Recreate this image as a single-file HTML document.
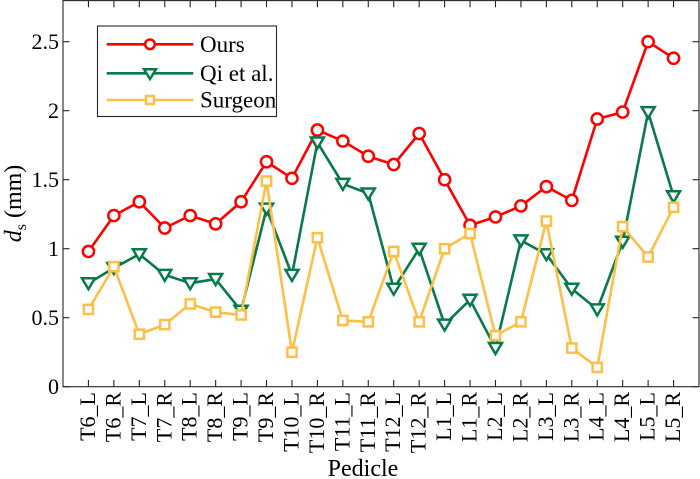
<!DOCTYPE html>
<html>
<head>
<meta charset="utf-8">
<style>
html,body{margin:0;padding:0;background:#fff;}
svg{display:block;}
text{font-family:"Liberation Serif","Times New Roman",serif;fill:#000;}
</style>
</head>
<body>
<svg width="700" height="479" viewBox="0 0 700 479" xmlns="http://www.w3.org/2000/svg">
<defs>
  <marker id="mc" viewBox="-10 -10 20 20" markerWidth="20" markerHeight="20" refX="0" refY="0" markerUnits="userSpaceOnUse" overflow="visible">
    <circle cx="0" cy="0" r="5.6" fill="#fff" stroke="#ff0000" stroke-width="2.5"/>
  </marker>
  <marker id="mt" viewBox="-10 -10 20 20" markerWidth="20" markerHeight="20" refX="0" refY="0" markerUnits="userSpaceOnUse" overflow="visible">
    <polygon points="-6.5,-5 6.5,-5 0,6" fill="#fff" stroke="#077a4a" stroke-width="2.5"/>
  </marker>
  <marker id="ms" viewBox="-10 -10 20 20" markerWidth="20" markerHeight="20" refX="0" refY="0" markerUnits="userSpaceOnUse" overflow="visible">
    <rect x="-4.6" y="-4.6" width="9.2" height="9.2" fill="#fff" stroke="#ffbf47" stroke-width="2.5"/>
  </marker>
</defs>

<rect x="0" y="0" width="700" height="479" fill="#fff"/>

<!-- series -->
<polyline fill="none" stroke="#ff0000" stroke-width="2.6" stroke-linejoin="round"
 marker-start="url(#mc)" marker-mid="url(#mc)" marker-end="url(#mc)"
 points="88.44,251.46 113.88,215.58 139.32,201.78 164.76,228 190.2,215.58 215.64,223.86 241.08,201.78 266.52,161.76 291.96,178.32 317.4,130.02 342.84,141.06 368.28,156.24 393.72,164.52 419.16,133.5 444.6,179.7 470.04,225.24 495.48,216.96 520.92,205.92 546.36,186.6 571.8,200.4 597.24,118.98 622.68,112.08 648.12,41.7 673.56,58.26"/>

<polyline fill="none" stroke="#077a4a" stroke-width="2.6" stroke-linejoin="round"
 marker-start="url(#mt)" marker-mid="url(#mt)" marker-end="url(#mt)"
 points="88.44,283.2 113.88,268.02 139.32,254.22 164.76,274.92 190.2,283.2 215.64,279.06 241.08,310.8 266.52,208.68 291.96,274.92 317.4,142.44 342.84,183.84 368.28,193.5 393.72,288.72 419.16,248.7 444.6,324.6 470.04,299.76 495.48,348.06 520.92,240.42 546.36,254.22 571.8,288.72 597.24,309.42 622.68,241.8 648.12,112.08 673.56,196.26"/>

<polyline fill="none" stroke="#ffbf47" stroke-width="2.6" stroke-linejoin="round"
 marker-start="url(#ms)" marker-mid="url(#ms)" marker-end="url(#ms)"
 points="88.44,309.42 113.88,266.64 139.32,334.26 164.76,324.6 190.2,303.9 215.64,312.18 241.08,314.94 266.52,181.08 291.96,352.2 317.4,237.66 342.84,320.46 368.28,321.84 393.72,251.46 419.16,321.84 444.6,248.7 470.04,233.52 495.48,335.64 520.92,321.84 546.36,221.1 571.8,348.06 597.24,367.38 622.68,226.62 648.12,256.98 673.56,207.3"/>

<!-- axes box -->
<rect x="63" y="0.6" width="636" height="386.1" fill="none" stroke="#262626" stroke-width="1.1"/>

<!-- y ticks -->
<g stroke="#262626" stroke-width="1.1">
  <line x1="63" y1="386.7" x2="69.5" y2="386.7"/><line x1="699" y1="386.7" x2="692.5" y2="386.7"/>
  <line x1="63" y1="317.7" x2="69.5" y2="317.7"/><line x1="699" y1="317.7" x2="692.5" y2="317.7"/>
  <line x1="63" y1="248.7" x2="69.5" y2="248.7"/><line x1="699" y1="248.7" x2="692.5" y2="248.7"/>
  <line x1="63" y1="179.7" x2="69.5" y2="179.7"/><line x1="699" y1="179.7" x2="692.5" y2="179.7"/>
  <line x1="63" y1="110.7" x2="69.5" y2="110.7"/><line x1="699" y1="110.7" x2="692.5" y2="110.7"/>
  <line x1="63" y1="41.7" x2="69.5" y2="41.7"/><line x1="699" y1="41.7" x2="692.5" y2="41.7"/>
</g>

<!-- x ticks -->
<g stroke="#262626" stroke-width="1.1">
  <line x1="88.44" y1="386.7" x2="88.44" y2="380"/><line x1="88.44" y1="0.6" x2="88.44" y2="7.3"/>
  <line x1="113.88" y1="386.7" x2="113.88" y2="380"/><line x1="113.88" y1="0.6" x2="113.88" y2="7.3"/>
  <line x1="139.32" y1="386.7" x2="139.32" y2="380"/><line x1="139.32" y1="0.6" x2="139.32" y2="7.3"/>
  <line x1="164.76" y1="386.7" x2="164.76" y2="380"/><line x1="164.76" y1="0.6" x2="164.76" y2="7.3"/>
  <line x1="190.2" y1="386.7" x2="190.2" y2="380"/><line x1="190.2" y1="0.6" x2="190.2" y2="7.3"/>
  <line x1="215.64" y1="386.7" x2="215.64" y2="380"/><line x1="215.64" y1="0.6" x2="215.64" y2="7.3"/>
  <line x1="241.08" y1="386.7" x2="241.08" y2="380"/><line x1="241.08" y1="0.6" x2="241.08" y2="7.3"/>
  <line x1="266.52" y1="386.7" x2="266.52" y2="380"/><line x1="266.52" y1="0.6" x2="266.52" y2="7.3"/>
  <line x1="291.96" y1="386.7" x2="291.96" y2="380"/><line x1="291.96" y1="0.6" x2="291.96" y2="7.3"/>
  <line x1="317.4" y1="386.7" x2="317.4" y2="380"/><line x1="317.4" y1="0.6" x2="317.4" y2="7.3"/>
  <line x1="342.84" y1="386.7" x2="342.84" y2="380"/><line x1="342.84" y1="0.6" x2="342.84" y2="7.3"/>
  <line x1="368.28" y1="386.7" x2="368.28" y2="380"/><line x1="368.28" y1="0.6" x2="368.28" y2="7.3"/>
  <line x1="393.72" y1="386.7" x2="393.72" y2="380"/><line x1="393.72" y1="0.6" x2="393.72" y2="7.3"/>
  <line x1="419.16" y1="386.7" x2="419.16" y2="380"/><line x1="419.16" y1="0.6" x2="419.16" y2="7.3"/>
  <line x1="444.6" y1="386.7" x2="444.6" y2="380"/><line x1="444.6" y1="0.6" x2="444.6" y2="7.3"/>
  <line x1="470.04" y1="386.7" x2="470.04" y2="380"/><line x1="470.04" y1="0.6" x2="470.04" y2="7.3"/>
  <line x1="495.48" y1="386.7" x2="495.48" y2="380"/><line x1="495.48" y1="0.6" x2="495.48" y2="7.3"/>
  <line x1="520.92" y1="386.7" x2="520.92" y2="380"/><line x1="520.92" y1="0.6" x2="520.92" y2="7.3"/>
  <line x1="546.36" y1="386.7" x2="546.36" y2="380"/><line x1="546.36" y1="0.6" x2="546.36" y2="7.3"/>
  <line x1="571.8" y1="386.7" x2="571.8" y2="380"/><line x1="571.8" y1="0.6" x2="571.8" y2="7.3"/>
  <line x1="597.24" y1="386.7" x2="597.24" y2="380"/><line x1="597.24" y1="0.6" x2="597.24" y2="7.3"/>
  <line x1="622.68" y1="386.7" x2="622.68" y2="380"/><line x1="622.68" y1="0.6" x2="622.68" y2="7.3"/>
  <line x1="648.12" y1="386.7" x2="648.12" y2="380"/><line x1="648.12" y1="0.6" x2="648.12" y2="7.3"/>
  <line x1="673.56" y1="386.7" x2="673.56" y2="380"/><line x1="673.56" y1="0.6" x2="673.56" y2="7.3"/>
</g>

<!-- y tick labels -->
<g font-size="22" text-anchor="end">
  <text x="59" y="394.2">0</text>
  <text x="59" y="325.2">0.5</text>
  <text x="59" y="256.2">1</text>
  <text x="59" y="187.2">1.5</text>
  <text x="59" y="118.2">2</text>
  <text x="59" y="49.2">2.5</text>
</g>

<!-- x tick labels -->
<g font-size="22" text-anchor="end">
  <text transform="translate(95,392) rotate(-90)">T6_L</text>
  <text transform="translate(120.4,392) rotate(-90)">T6_R</text>
  <text transform="translate(145.8,392) rotate(-90)">T7_L</text>
  <text transform="translate(171.3,392) rotate(-90)">T7_R</text>
  <text transform="translate(196.7,392) rotate(-90)">T8_L</text>
  <text transform="translate(222.1,392) rotate(-90)">T8_R</text>
  <text transform="translate(247.6,392) rotate(-90)">T9_L</text>
  <text transform="translate(273,392) rotate(-90)">T9_R</text>
  <text transform="translate(298.5,392) rotate(-90)">T10_L</text>
  <text transform="translate(323.9,392) rotate(-90)">T10_R</text>
  <text transform="translate(349.3,392) rotate(-90)">T11_L</text>
  <text transform="translate(374.8,392) rotate(-90)">T11_R</text>
  <text transform="translate(400.2,392) rotate(-90)">T12_L</text>
  <text transform="translate(425.7,392) rotate(-90)">T12_R</text>
  <text transform="translate(451.1,392) rotate(-90)">L1_L</text>
  <text transform="translate(476.5,392) rotate(-90)">L1_R</text>
  <text transform="translate(502,392) rotate(-90)">L2_L</text>
  <text transform="translate(527.4,392) rotate(-90)">L2_R</text>
  <text transform="translate(552.9,392) rotate(-90)">L3_L</text>
  <text transform="translate(578.3,392) rotate(-90)">L3_R</text>
  <text transform="translate(603.7,392) rotate(-90)">L4_L</text>
  <text transform="translate(629.2,392) rotate(-90)">L4_R</text>
  <text transform="translate(654.6,392) rotate(-90)">L5_L</text>
  <text transform="translate(680.1,392) rotate(-90)">L5_R</text>
</g>

<!-- axis labels -->
<text x="363" y="476" font-size="24" text-anchor="middle">Pedicle</text>
<text transform="translate(21,203.5) rotate(-90)" font-size="24" text-anchor="middle"><tspan font-style="italic">d</tspan><tspan font-size="16" dy="5">s</tspan><tspan dy="-5"> (mm)</tspan></text>

<!-- legend -->
<rect x="97.5" y="26" width="179" height="90.5" fill="#fff" stroke="#262626" stroke-width="1.1"/>
<line x1="106.7" y1="44.3" x2="193.3" y2="44.3" stroke="#ff0000" stroke-width="2.6"/>
<circle cx="150" cy="44.3" r="4.8" fill="#fff" stroke="#ff0000" stroke-width="2.5"/>
<line x1="106.7" y1="73.3" x2="193.3" y2="73.3" stroke="#077a4a" stroke-width="2.6"/>
<polygon points="144,69.3 156,69.3 150,79" fill="#fff" stroke="#077a4a" stroke-width="2.5"/>
<line x1="106.7" y1="100" x2="193.3" y2="100" stroke="#ffbf47" stroke-width="2.6"/>
<rect x="146" y="96" width="8" height="8" fill="#fff" stroke="#ffbf47" stroke-width="2.5"/>
<g font-size="23">
  <text x="200" y="52">Ours</text>
  <text x="200" y="81">Qi et al.</text>
  <text x="200" y="107.7">Surgeon</text>
</g>
</svg>
</body>
</html>
